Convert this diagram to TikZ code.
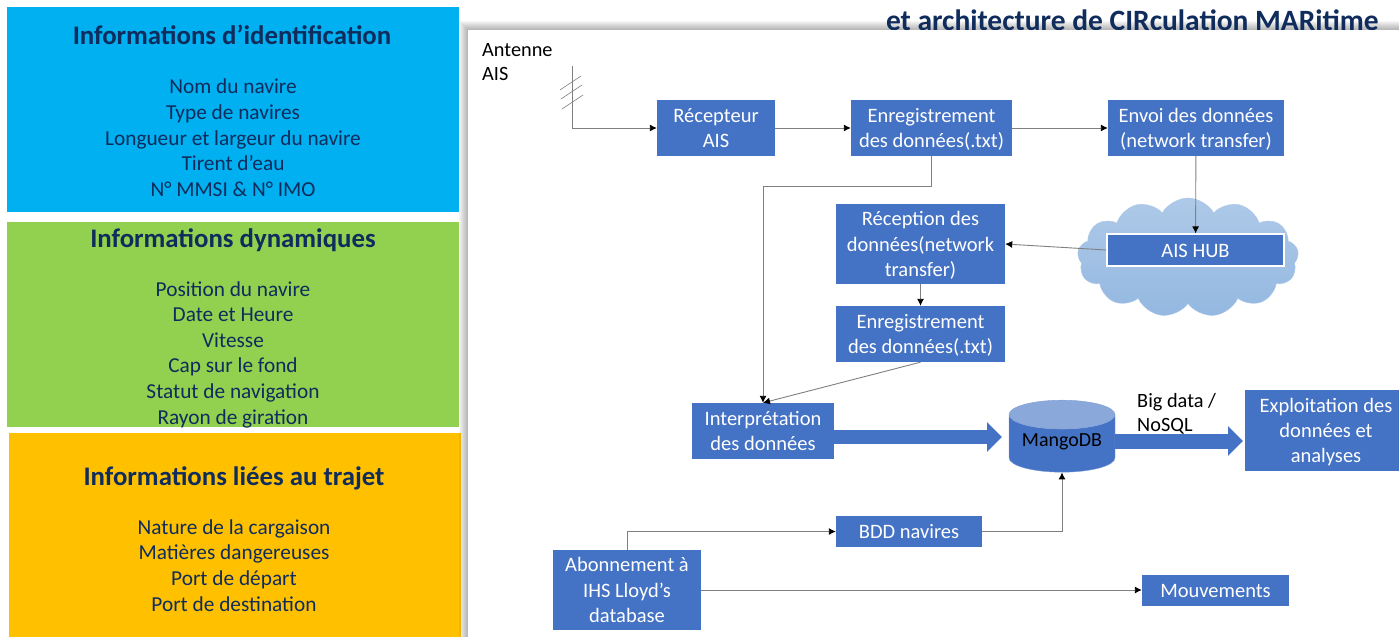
\documentclass[tikz,border=0pt]{standalone}
\usepackage{fontspec}
\setmainfont{Carlito}
\usetikzlibrary{arrows.meta,shapes.geometric,shapes.symbols}
\definecolor{boxblue}{HTML}{4472C4}
\definecolor{navy}{HTML}{0F2C5C}
\definecolor{linegray}{HTML}{808080}
\definecolor{idblue}{HTML}{00B0F0}
\definecolor{dyngreen}{HTML}{92D050}
\definecolor{triporange}{HTML}{FFC000}
\definecolor{cloudtop}{HTML}{AEC9E8}
\definecolor{cloudbottom}{HTML}{94B8E1}
\newcommand{\firstline}{\rule{0pt}{\dimexpr.7\baselineskip+4pt}}
\begin{document}
\begin{tikzpicture}[x=1pt,y=-1pt,
  panel/.style={rectangle,minimum width=452pt,minimum height=205pt,inner sep=0pt},
  strutted/.style={execute at begin node={\rule{0pt}{\dimexpr.7\baselineskip+#1}},execute at end node=\strut},
  paneltitle/.style={strutted=8pt,inner sep=0pt,text=navy,font=\fontsize{26.8}{29}\selectfont\bfseries},
  paneltext/.style={strutted=0pt,inner sep=0pt,text=navy,align=center,font=\fontsize{21.3}{25.6}\selectfont},
  bluebox/.style={rectangle,fill=boxblue,text=white,align=center,inner sep=0pt,strutted=4pt,
    font=\fontsize{20.5}{25.4}\selectfont},
  plaintext/.style={text=black,align=left,inner sep=0pt,strutted=0pt,font=\fontsize{20.3}{24.5}\selectfont},
  flow/.style={draw=linegray,line width=.9pt,-{Latex[black,length=7pt,width=7pt]}},
  bigflow/.style={draw=boxblue,line width=14pt,-{Triangle[length=15pt,width=29pt]}}]
\useasboundingbox (0,0) rectangle (1399,637);
% left panels
\node[panel,fill=idblue] (idPanel) at (233,109.5) {};
\node[panel,fill=dyngreen] (dynPanel) at (233,324.5) {};
\node[panel,fill=triporange,minimum height=204pt] (tripPanel) at (235,535) {};
\node[paneltitle] (idTitle) at (232,35) {Informations d’identification};
\node[paneltext] (idText) at (233,140) {\strut Nom du navire\\Type de navires\\Longueur et largeur du navire\\Tirent d’eau\\N° MMSI \& N° IMO};
\node[paneltitle] (dynTitle) at (233,238) {Informations dynamiques};
\node[paneltext] (dynText) at (233,355) {\strut Position du navire\\Date et Heure\\Vitesse\\Cap sur le fond\\Statut de navigation\\Rayon de giration};
\node[paneltitle] (tripTitle) at (234,476) {Informations liées au trajet};
\node[paneltext] (tripText) at (234,567.5) {\strut Nature de la cargaison\\Matières dangereuses\\Port de départ\\Port de destination};
% soft shadow of the sheet
\foreach \i in {9,...,1}
  \fill[black,opacity=.035] (468-\i,30-\i) rectangle (1399,637);
\node[anchor=east,text=navy,inner sep=0pt,font=\fontsize{29.5}{32}\selectfont\bfseries] (mainTitle) at (1379,20) {et architecture de CIRculation MARitime};
\fill[white] (468,30) rectangle (1399,637);
% antenna
\node[plaintext,anchor=north west] (antennaLabel) at (482,39) {\strut Antenne\\AIS};
\coordinate (antennaTop) at (572,66);
\foreach \ya/\xa in {90/560,99/561,109/562}
  \draw[linegray,line width=.6pt] (\xa,\ya) -- ++(21,-14);
% blocks
\node[bluebox,minimum width=118pt,minimum height=56pt] (recepteur) at (716,128) {\firstline Récepteur\\AIS};
\node[bluebox,minimum width=161pt,minimum height=56pt] (enregA) at (931.5,128) {\firstline Enregistrement\\des données(.txt)};
\node[bluebox,minimum width=176pt,minimum height=56pt] (envoi) at (1196,128) {\firstline Envoi des données\\(network transfer)};
\node[cloud,cloud puffs=13,cloud puff arc=120,aspect=2,top color=cloudtop,bottom color=cloudbottom,draw=cloudtop,minimum width=221pt,minimum height=119pt,inner sep=0pt] (nuage) at (1188,257.5) {};
\node[bluebox,minimum width=177pt,minimum height=32pt,draw=white,line width=1.2pt] (hub) at (1195.5,250) {AIS HUB};
\node[bluebox,minimum width=169pt,minimum height=80pt] (reception) at (920.5,244) {\firstline Réception des\\données(network\\transfer)};
\node[bluebox,minimum width=169pt,minimum height=56pt] (enregB) at (920.5,334) {\firstline Enregistrement\\des données(.txt)};
\node[bluebox,minimum width=142pt,minimum height=56pt] (interp) at (763,431) {\firstline Interprétation\\des données};
\node[cylinder,shape border rotate=90,aspect=.36,draw=boxblue!70!white,cylinder uses custom fill,cylinder body fill=boxblue,cylinder end fill=boxblue!62!white,minimum width=106pt,minimum height=72pt,inner sep=0pt,font=\fontsize{20}{24}\selectfont] (mango) at (1062,443.5) {\smash{\raisebox{-2.5pt}{MangoDB}}};
\node[bluebox,minimum width=162pt,minimum height=81pt] (exploit) at (1326,430.5) {\firstline Exploitation des\\données et\\analyses};
\node[plaintext,anchor=north west] (bigData) at (1137,390) {\strut Big data /\\NoSQL};
\node[bluebox,minimum width=146pt,minimum height=31pt] (bdd) at (909,531.5) {BDD navires};
\node[bluebox,minimum width=148pt,minimum height=80pt] (abonnement) at (627,590) {\firstline Abonnement à\\IHS Lloyd’s\\database};
\node[bluebox,minimum width=147pt,minimum height=31pt] (mouvements) at (1215.5,590.5) {Mouvements};
% links
\draw[flow] (antennaTop) |- (recepteur.west);
\path (recepteur) edge[flow] (enregA)
  (enregA) edge[flow] (envoi)
  (envoi) edge[flow] (hub)
  (hub.west) edge[flow] (reception.east)
  (reception) edge[flow] (enregB)
  (enregB.south) edge[flow] (interp.north)
  (abonnement.east) edge[flow] (abonnement.east -| mouvements.west);
\draw[flow] (enregA.south) -- ++(0,30) -| (interp.north);
\draw[flow] (bdd.east) -| (mango.south);
\draw[flow] (abonnement.north) |- (bdd.west);
\coordinate (arrowA) at (1002,437);
\coordinate (arrowB) at (1243,441);
\draw[bigflow] (arrowA -| interp.east) -- (arrowA);
\draw[bigflow,line width=15pt] (arrowB -| mango.east) -- (arrowB);
\end{tikzpicture}
\end{document}
